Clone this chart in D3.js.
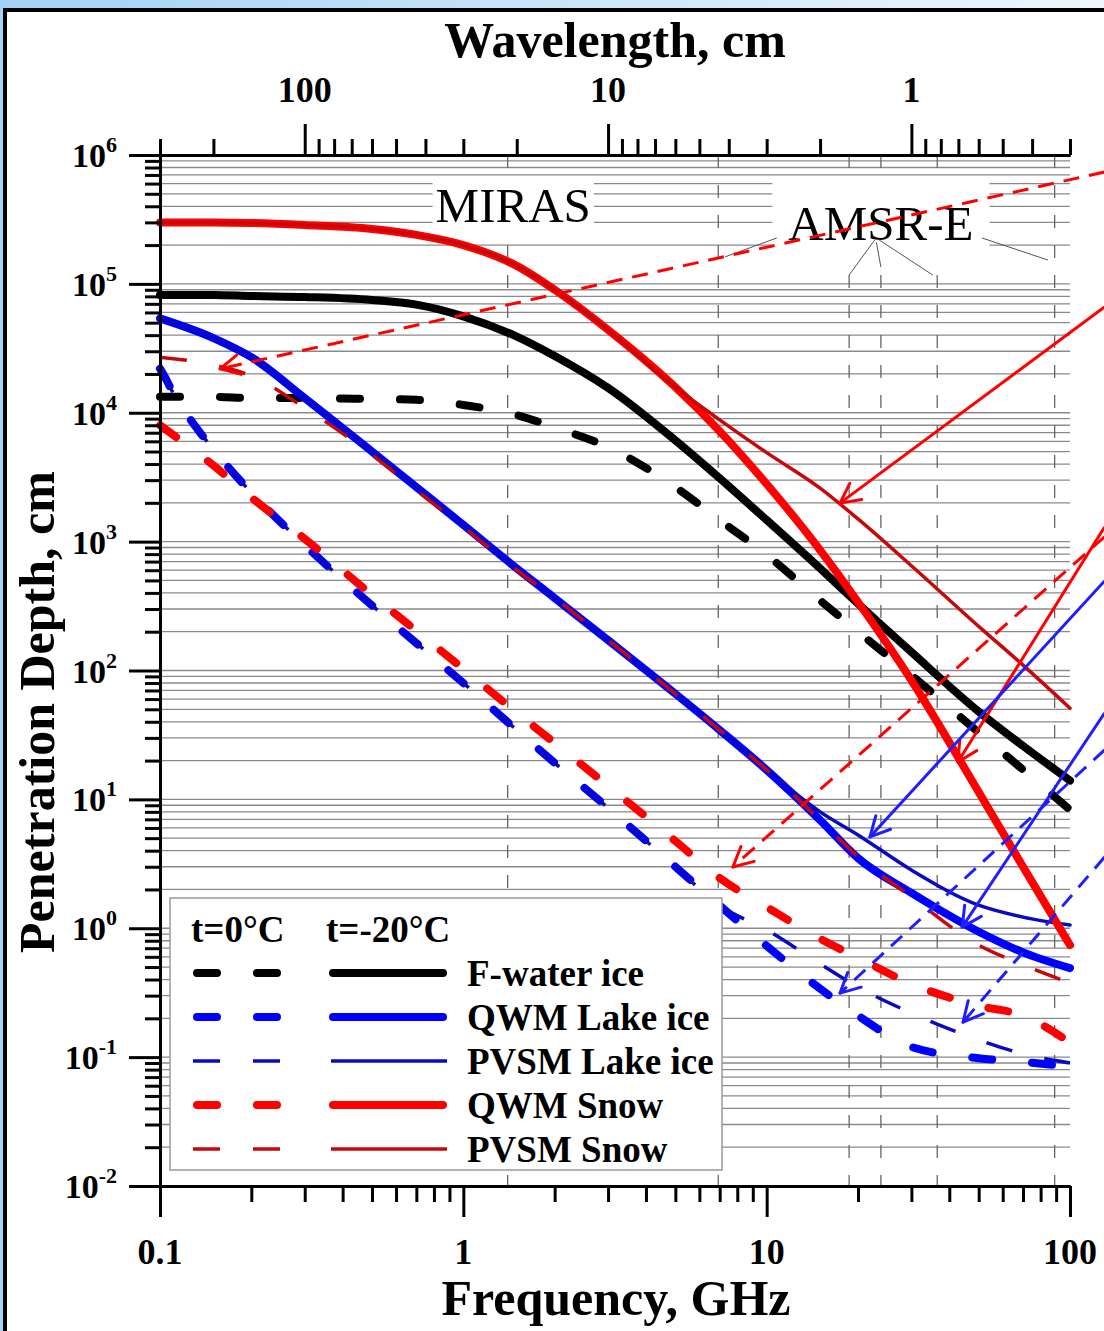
<!DOCTYPE html>
<html><head><meta charset="utf-8">
<script src="https://cdn.jsdelivr.net/npm/d3@7"></script>
<style>html,body{margin:0;padding:0;overflow:hidden;background:#fff}svg{display:block}</style>
</head><body>
<svg id="chart" width="1104" height="1331"></svg>
<script>
// ---------------- DATA ----------------
const freqs = [0.1,0.15,0.2,0.3,0.5,0.7,1,1.5,2,3,5,7,10,15,20,30,50,70,100];
const freqsLake0 = [0.1,0.105,0.11,0.12,0.13,0.15,0.2,0.3,0.5,0.7,1,1.5,2,3,5,7,10,15,20,30,50,70,100];
// F-water ice
const fwaterIce0  = [1.33e4,1.33e4,1.3e4,1.3e4,1.28e4,1.26e4,1.15e4,9.6e3,7.7e3,5.4e3,2.65e3,1.47e3,790,350,200,92,33,17,8.3];
const fwaterIce20 = [8.2e4,8.2e4,8.05e4,7.9e4,7.5e4,6.9e4,5.6e4,3.9e4,2.76e4,1.56e4,6.1e3,3.1e3,1.47e3,620,330,139,48,26,14];
// QWM / PVSM lake ice
const qwmLake20  = [5.4e4,3.8e4,2.7e4,1.3e4,5.0e3,2.65e3,1.35e3,620,365,172,66,34.5,16.9,6.9,3.5,1.88,0.94,0.65,0.49];
const pvsmLake20 = [5.4e4,3.8e4,2.7e4,1.3e4,5.0e3,2.65e3,1.35e3,620,365,172,66,34.5,16.9,8.0,5.3,2.83,1.51,1.22,1.06];
const qwmLake0   = [2.2e4,1.8e4,1.45e4,1.05e4,8.0e3,5.2e3,2.4e3,940,320,163,80,34.5,19.2,8.6,3.0,1.5,0.73,0.34,0.21,0.12,0.098,0.092,0.084];
const pvsmLake0  = [2.2e4,1.8e4,1.45e4,1.05e4,8.0e3,5.2e3,2.4e3,940,320,163,80,34.5,19.2,8.6,3.0,1.5,0.97,0.53,0.35,0.22,0.136,0.106,0.09];
// QWM / PVSM snow
const qwmSnow20  = [3.0e5,3.0e5,2.97e5,2.86e5,2.67e5,2.4e5,2.0e5,1.38e5,9.0e4,4.4e4,1.58e4,7.2e3,2.8e3,860,340,84,11.4,3.0,0.74];
const pvsmSnow20 = [3.0e5,3.0e5,2.97e5,2.86e5,2.67e5,2.4e5,2.0e5,1.38e5,9.0e4,4.4e4,1.58e4,8.8e3,4.9e3,2.6e3,1.5e3,650,220,110,51];
const qwmSnow0   = [8.0e3,3.9e3,2.2e3,1.05e3,385,203,103,47,27.4,12.7,4.75,2.45,1.46,0.83,0.59,0.37,0.25,0.21,0.13];
const pvsmSnow0  = [2.7e4,2.35e4,1.93e4,1.09e4,4.7e3,2.5e3,1.3e3,600,365,172,66,34.5,16.9,6.9,3.6,1.75,0.74,0.52,0.376];

// radiometer channels (GHz)
const mirasFreqs = [1.4];
const amsrFreqs = [6.925, 18.7, 23.8, 36.5, 89.0];

// axis ticks
const freqMajor = [0.1,1,10,100];
const freqMinor = [0.2,0.3,0.4,0.5,0.6,0.7,0.8,0.9,2,3,4,5,6,7,8,9,20,30,40,50,60,70,80,90];
const waveMajor = [100,10,1];
const waveMinor = [300,200,90,80,70,60,50,40,30,20,9,8,7,6,5,4,3,2,0.9,0.8,0.7,0.6,0.5,0.4,0.3];
const depthExp = [-2,-1,0,1,2,3,4,5,6];

// annotation arrows: [startFreq, startDepth, tipFreq, tipDepth]
const arrowsRedDashed  = [[130,7.38e5,0.1577,2.19e4],[130,1.09e3,7.74,2.99]];
const arrowsRedSolid   = [[130,6.62e4,17.45,1.99e3],[130,1.30e3,42.7,19.5]];
const arrowsBlueSolid  = [[130,495,21.9,5.11],[130,46.8,44.1,1.02]];
const arrowsBlueDashed = [[130,24.2,17.45,0.314],[130,3.57,44.4,0.187]];
// AMSR-E leader lines: [fromFreq, fromDepth, toFreq, toDepth]
const amsrLeaders = [[10.8,2.27e5,7.29,1.62e5],[22.7,2.19e5,18.7,1.17e5],[23.0,2.1e5,23.8,1.35e5],[23.5,2.19e5,35.3,1.17e5],[51.3,2.27e5,84.6,1.53e5]];

const legendLabels = ["F-water ice","QWM Lake ice","PVSM Lake ice","QWM Snow","PVSM Snow"];

// ---------------- DRAW ----------------
const W=1104,H=1331;
const FONT='"Liberation Serif","Times New Roman",serif';
const svg=d3.select("#chart");
const defs=svg.append("defs");
const grad=defs.append("linearGradient").attr("id","bg").attr("x1",0).attr("x2",1).attr("y1",0).attr("y2",0);
grad.append("stop").attr("offset",0).attr("stop-color","#a3d2f6");
grad.append("stop").attr("offset",1).attr("stop-color","#eef7fd");
svg.append("rect").attr("width",W).attr("height",H).attr("fill","url(#bg)");
svg.append("rect").attr("x",5).attr("y",10).attr("width",1300).attr("height",1500)
  .attr("fill","#fff").attr("stroke","#000").attr("stroke-width",4);

const x=d3.scaleLog().domain([0.1,100]).range([160,1070]);
const y=d3.scaleLog().domain([1e-2,1e6]).range([1186,155]);
const [X0,X1]=x.range(); const [Y0,Y1]=y.range();

// horizontal grid
const gridVals=[];
for(let e=-2;e<6;e++) for(let m=1;m<10;m++){ const v=m*Math.pow(10,e); if(!(e===-2&&m===1)) gridVals.push(v); }
svg.append("g").selectAll("line").data(gridVals).join("line")
  .attr("x1",X0).attr("x2",X1).attr("y1",d=>y(d)).attr("y2",d=>y(d))
  .attr("stroke","#8a8a8a").attr("stroke-width",1.3);
// vertical dashed channel lines
svg.append("g").selectAll("line").data(mirasFreqs.concat(amsrFreqs)).join("line")
  .attr("x1",d=>x(d)).attr("x2",d=>x(d)).attr("y1",Y1).attr("y2",Y0)
  .attr("stroke","#666").attr("stroke-width",1.3).attr("stroke-dasharray","13,17");

// labels with white backgrounds
const labG=svg.append("g");
function boxLabel(txt,f,d,padL,padT,padR,padB){
  const t=labG.append("text").attr("x",x(f)).attr("y",y(d)).attr("text-anchor","middle")
    .attr("font-family",FONT).attr("font-size",49).text(txt);
  const b=t.node().getBBox();
  labG.insert("rect","text").attr("x",b.x-padL).attr("y",b.y-padT)
    .attr("width",b.width+padL+padR).attr("height",b.height+padT+padB).attr("fill","#fff");
}
boxLabel("MIRAS",1.46,3.0e5,3,2,3,0);
boxLabel("AMSR-E",23.8,2.19e5,16,17,16,11);
svg.append("g").selectAll("line").data(amsrLeaders).join("line")
  .attr("x1",d=>x(d[0])).attr("y1",d=>y(d[1])).attr("x2",d=>x(d[2])).attr("y2",d=>y(d[3]))
  .attr("stroke","#555").attr("stroke-width",1);

// curves
const line=d3.line().x(d=>x(d[0])).y(d=>y(d[1])).curve(d3.curveMonotoneX);
const RED="#ff0000", DRED="#c80808", BLUE="#0000ff", DBLUE="#0a0ac0";
const series=[
  {f:freqs,v:fwaterIce20,c:"#000",w:8,dash:null},
  {f:freqs,v:fwaterIce0,c:"#000",w:8,dash:"20,40"},
  {f:freqs,v:qwmLake20,c:BLUE,w:8,dash:null},
  {f:freqs,v:pvsmLake20,c:DBLUE,w:3.5,dash:null},
  {f:freqsLake0,v:qwmLake0,c:BLUE,w:8,dash:"20,40"},
  {f:freqsLake0,v:pvsmLake0,c:DBLUE,w:3.5,dash:"27,33",butt:true},
  {f:freqs,v:qwmSnow20,c:RED,w:8,dash:null},
  {f:freqs,v:pvsmSnow20,c:DRED,w:3.5,dash:null},
  {f:freqs,v:qwmSnow0,c:RED,w:8,dash:"20,40"},
  {f:freqs,v:pvsmSnow0,c:DRED,w:3.5,dash:"27,33",butt:true}
];
const cg=svg.append("g");
series.forEach(s=>{
  cg.append("path").datum(s.f.map((f,i)=>[f,s.v[i]])).attr("d",line)
    .attr("fill","none").attr("stroke",s.c).attr("stroke-width",s.w)
    .attr("stroke-linecap",s.butt?"butt":"round").attr("stroke-linejoin","round")
    .attr("stroke-dasharray",s.dash);
});

// arrows
const ag=svg.append("g");
function arrow(a,color,dash){
  const sx=x(a[0]),sy=y(a[1]),tx=x(a[2]),ty=y(a[3]);
  ag.append("line").attr("x1",sx).attr("y1",sy).attr("x2",tx).attr("y2",ty)
    .attr("stroke",color).attr("stroke-width",3).attr("stroke-dasharray",dash);
  const ang=Math.atan2(sy-ty,sx-tx), L=22, sp=27*Math.PI/180;
  [ang-sp,ang+sp].forEach(a2=>{
    ag.append("line").attr("x1",tx).attr("y1",ty).attr("x2",tx+L*Math.cos(a2)).attr("y2",ty+L*Math.sin(a2))
      .attr("stroke",color).attr("stroke-width",3).attr("stroke-linecap","round");
  });
}
arrowsRedDashed.forEach(a=>arrow(a,RED,"16,10"));
arrowsRedSolid.forEach(a=>arrow(a,RED,null));
arrowsBlueSolid.forEach(a=>arrow(a,"#1e1eff",null));
arrowsBlueDashed.forEach(a=>arrow(a,"#1e1eff","15,10"));

// axes
function styleAxis(g){
  g.select(".domain").attr("stroke","#000").attr("stroke-width",3);
  g.selectAll(".tick line").attr("stroke","#000").attr("stroke-width",3);
  g.selectAll(".tick text").remove();
}
const gB1=svg.append("g").attr("transform",`translate(0,${Y0})`).call(d3.axisBottom(x).tickValues(freqMajor).tickSize(31).tickSizeOuter(0).tickFormat(""));
const gB2=svg.append("g").attr("transform",`translate(0,${Y0})`).call(d3.axisBottom(x).tickValues(freqMinor).tickSize(16).tickSizeOuter(0).tickFormat(""));
const gT1=svg.append("g").attr("transform",`translate(0,${Y1})`).call(d3.axisTop(x).tickValues(waveMajor.map(w=>30/w)).tickSize(31).tickSizeOuter(0).tickFormat(""));
const gT2=svg.append("g").attr("transform",`translate(0,${Y1})`).call(d3.axisTop(x).tickValues(waveMinor.map(w=>30/w)).tickSize(16).tickSizeOuter(0).tickFormat(""));
const gL1=svg.append("g").attr("transform",`translate(${X0},0)`).call(d3.axisLeft(y).tickValues(depthExp.map(e=>Math.pow(10,e))).tickSize(31).tickSizeOuter(0).tickFormat(""));
const yMinor=[]; for(let e=-2;e<6;e++) for(let m=2;m<10;m++) yMinor.push(m*Math.pow(10,e));
const gL2=svg.append("g").attr("transform",`translate(${X0},0)`).call(d3.axisLeft(y).tickValues(yMinor).tickSize(15).tickSizeOuter(0).tickFormat(""));
[gB1,gB2,gT1,gT2,gL1,gL2].forEach(styleAxis);

// tick labels
const tl=svg.append("g").attr("font-family",FONT).attr("font-weight","bold").attr("fill","#000");
tl.selectAll("text.fb").data(freqMajor).join("text").attr("class","fb")
  .attr("x",d=>x(d)).attr("y",Y0+78).attr("text-anchor","middle").attr("font-size",36).text(d=>d);
tl.selectAll("text.wt").data(waveMajor).join("text").attr("class","wt")
  .attr("x",d=>x(30/d)).attr("y",Y1-53).attr("text-anchor","middle").attr("font-size",36).text(d=>d);
depthExp.forEach(e=>{
  const t=tl.append("text").attr("x",117).attr("y",y(Math.pow(10,e))+12).attr("text-anchor","end").attr("font-size",34);
  t.append("tspan").text("10");
  t.append("tspan").attr("dy",-15).attr("font-size",22).text(e);
});

// axis titles
tl.append("text").attr("x",615).attr("y",57).attr("text-anchor","middle").attr("font-size",50).text("Wavelength, cm");
tl.append("text").attr("x",616).attr("y",1315).attr("text-anchor","middle").attr("font-size",50).text("Frequency, GHz");
tl.append("text").attr("transform","translate(54,712) rotate(-90)").attr("text-anchor","middle").attr("font-size",50).text("Penetration Depth, cm");

// legend
const lg=svg.append("g");
lg.append("rect").attr("x",170).attr("y",898).attr("width",552).attr("height",272)
  .attr("fill","#fff").attr("stroke","#999").attr("stroke-width",1.5);
lg.append("text").attr("x",191).attr("y",942).attr("font-family",FONT).attr("font-weight","bold").attr("font-size",37).text("t=0°C");
lg.append("text").attr("x",326).attr("y",942).attr("font-family",FONT).attr("font-weight","bold").attr("font-size",37).text("t=-20°C");
const legSeries=[[series[1],series[0]],[series[4],series[2]],[series[5],series[3]],[series[8],series[6]],[series[9],series[7]]];
legSeries.forEach((pair,i)=>{
  const ry=973+i*44;
  const d=pair[0], s=pair[1];
  const thick=d.w>5;
  lg.append("line").attr("x1",thick?197:193).attr("x2",thick?277:282).attr("y1",ry).attr("y2",ry)
    .attr("stroke",d.c).attr("stroke-width",d.w).attr("stroke-dasharray",d.dash)
    .attr("stroke-linecap",d.butt?"butt":"round");
  lg.append("line").attr("x1",thick?333:331).attr("x2",thick?443:447).attr("y1",ry).attr("y2",ry)
    .attr("stroke",s.c).attr("stroke-width",s.w).attr("stroke-linecap",thick?"round":"butt");
  lg.append("text").attr("x",467).attr("y",ry+13).attr("font-family",FONT).attr("font-weight","bold")
    .attr("font-size",37).text(legendLabels[i]);
});
</script>
</body></html>
